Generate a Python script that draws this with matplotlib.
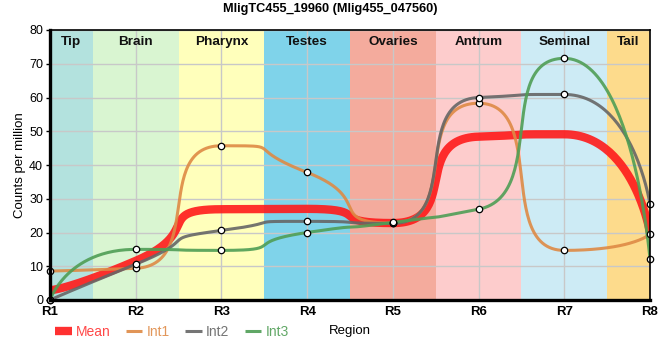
import numpy as np
import matplotlib.pyplot as plt

plt.rcParams['font.family'] = ['Liberation Sans', 'DejaVu Sans']

# data
regions = ['R1', 'R2', 'R3', 'R4', 'R5', 'R6', 'R7', 'R8']
tissues = ['Tip', 'Brain', 'Pharynx', 'Testes', 'Ovaries', 'Antrum', 'Seminal', 'Tail']
mean = [2.9, 11.6, 26.9, 27.0, 22.8, 48.4, 49.1, 20.0]
int1 = [8.6, 9.4, 45.7, 37.8, 22.8, 58.3, 14.7, 19.5]
int2 = [0.0, 10.6, 20.6, 23.3, 22.7, 60.0, 60.9, 28.4]
int3 = [0.0, 15.0, 14.7, 20.0, 23.0, 26.9, 71.6, 12.1]

tissue_colors = ['#b3e2de', '#d9f5d1', '#ffffbb', '#7fd3ea',
                 '#f4ab9d', '#fdcccc', '#cdebf5', '#fddb8c']


def spline(xs, ys, k=0.8, n=60):
    """Bezier spline through the points, flattened at local extremes."""
    xs = np.asarray(xs, float)
    ys = np.asarray(ys, float)
    m = len(xs)
    lc = [(xs[i], ys[i]) for i in range(m)]
    rc = [(xs[i], ys[i]) for i in range(m)]
    for i in range(1, m - 1):
        lx = xs[i] - k * (xs[i] - xs[i - 1])
        ly = ys[i] + k * (ys[i - 1] - ys[i])
        rx = xs[i] + k * (xs[i + 1] - xs[i])
        ry = ys[i] + k * (ys[i + 1] - ys[i])
        corr = (ry - ly) * (rx - xs[i]) / (rx - lx) + ys[i] - ry
        ly += corr
        ry += corr
        if ly > ys[i - 1] and ly > ys[i]:
            ly = max(ys[i - 1], ys[i]); ry = 2 * ys[i] - ly
        elif ly < ys[i - 1] and ly < ys[i]:
            ly = min(ys[i - 1], ys[i]); ry = 2 * ys[i] - ly
        if ry > ys[i + 1] and ry > ys[i]:
            ry = max(ys[i + 1], ys[i]); ly = 2 * ys[i] - ry
        elif ry < ys[i + 1] and ry < ys[i]:
            ry = min(ys[i + 1], ys[i]); ly = 2 * ys[i] - ry
        lc[i] = (lx, ly)
        rc[i] = (rx, ry)
    t = np.linspace(0, 1, n)[:, None]
    out = []
    for i in range(m - 1):
        p0 = np.array([xs[i], ys[i]])
        p1 = np.array(rc[i])
        p2 = np.array(lc[i + 1])
        p3 = np.array([xs[i + 1], ys[i + 1]])
        seg = ((1 - t) ** 3) * p0 + 3 * ((1 - t) ** 2) * t * p1 \
            + 3 * (1 - t) * t ** 2 * p2 + t ** 3 * p3
        out.append(seg if i == 0 else seg[1:])
    out = np.vstack(out)
    return out[:, 0], out[:, 1]


x = np.arange(len(regions))

fig = plt.figure(figsize=(6.6, 3.6), dpi=100)
ax = fig.add_axes([50 / 660, 60 / 360, 600 / 660, 270 / 360])

for i, (name, col) in enumerate(zip(tissues, tissue_colors)):
    lo = max(i - 0.5, 0)
    hi = min(i + 0.5, len(regions) - 1)
    ax.axvspan(lo, hi, color=col, lw=0, zorder=0)
    ax.text((lo + hi) / 2, 76.4, name, ha='center', va='center',
            fontsize=9.7, fontweight='bold', color='#111111', zorder=5)

series = [('Mean', mean, '#ff1a1a', 6.0, 0.9),
          ('Int1', int1, '#de8a45', 2.2, 0.9),
          ('Int2', int2, '#666666', 2.2, 0.9),
          ('Int3', int3, '#4f9e55', 2.2, 0.9)]
text_colors = ['#ff4848', '#e2975a', '#757575', '#62a867']

handles = []
for name, vals, col, lw, al in series:
    sx, sy = spline(x, vals)
    h, = ax.plot(sx, sy, color=col, lw=lw, alpha=al, solid_capstyle='butt',
                 label=name, zorder=3)
    handles.append(h)
    if name != 'Mean':
        ax.plot(x, vals, 'o', ms=4.6, mfc='white', mec='black', mew=0.9,
                zorder=6, clip_on=False)

ax.set_xlim(0, len(regions) - 1)
ax.set_ylim(0, 80)
ax.set_xticks(x)
ax.set_xticklabels(regions, fontsize=9.5, fontweight='bold')
ax.set_yticks(np.arange(0, 81, 10))
ax.tick_params(axis='y', labelsize=9, length=3, width=1, pad=2)
ax.tick_params(axis='x', length=0, pad=4)
ax.grid(True, color='#c8c8c8', lw=1, zorder=1)
for gl in ax.get_xgridlines() + ax.get_ygridlines():
    gl.set_zorder(1)
for s in ax.spines.values():
    s.set_linewidth(1.2)
    s.set_zorder(7)
ax.spines['left'].set_linewidth(2.4)
ax.spines['bottom'].set_linewidth(2.4)

ax.set_ylabel('Counts per million', fontsize=9.5, va='center')
ax.yaxis.set_label_coords(-30 / 600, 0.5)
ax.set_xlabel('Region', fontsize=9.5, va='center')
ax.xaxis.set_label_coords(0.5, -31 / 270)
fig.suptitle('MligTC455_19960 (Mlig455_047560)', x=0.5, y=1 - 9 / 360,
             va='center', fontsize=9.2, fontweight='bold')

leg = fig.legend(handles=handles, loc='center left',
                 bbox_to_anchor=(48 / 660, 1 - 331.5 / 360), ncol=4,
                 frameon=False, fontsize=10, handlelength=1.2,
                 handletextpad=0.3, columnspacing=1.1, borderpad=0)
for txt, tc in zip(leg.get_texts(), text_colors):
    txt.set_color(tc)

fig.savefig('out.png', dpi=100)
